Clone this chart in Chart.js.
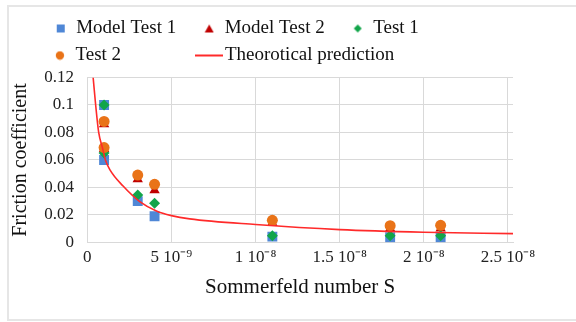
<!DOCTYPE html>
<html><head><meta charset="utf-8">
<script src="https://cdn.jsdelivr.net/npm/chart.js@4.4.0/dist/chart.umd.min.js"></script>
<style>
html,body{margin:0;padding:0;background:#fff;}
#wrap{position:relative;width:576px;height:322px;overflow:hidden;}
#frame{position:absolute;left:7px;top:5px;width:620px;height:316px;border:2px solid #e6e6e6;box-sizing:border-box;}
canvas{position:absolute;left:0;top:0;}
</style></head><body>
<div id="wrap"><div id="frame"></div><canvas id="c" width="576" height="322"></canvas></div>
<script>
const seriesNames = ['Model Test 1', 'Model Test 2', 'Test 1', 'Test 2', 'Theorotical prediction'];
const sMeasured = [1.0e-9, 1.0e-9, 3.0e-9, 4.0e-9, 1.1e-8, 1.8e-8, 2.1e-8];
const modelTest1 = [0.100, 0.060, 0.030, 0.019, 0.0042, 0.0038, 0.0038];
const modelTest2 = [0.086, 0.068, 0.046, 0.038, 0.0142, 0.0102, 0.0102];
const test1 = [0.100, 0.065, 0.0345, 0.0285, 0.0048, 0.0048, 0.0048];
const test2 = [0.088, 0.069, 0.049, 0.0423, 0.0161, 0.0122, 0.0124];
const sTheory = [0.35e-9, 0.50e-9, 0.68e-9, 0.90e-9, 1.08e-9, 1.34e-9, 2.13e-9, 3.12e-9, 4.11e-9, 5.0e-9, 6.09e-9, 1.0e-8, 1.5e-8, 2.0e-8, 2.53e-8];
const fTheory = [0.120, 0.100, 0.080, 0.069, 0.060, 0.053, 0.041, 0.0297, 0.0229, 0.0195, 0.0171, 0.0130, 0.0093, 0.0074, 0.0064];
const xTickLabels = ['0', '5 10\u207B\u2079', '1 10\u207B\u2078', '1.5 10\u207B\u2078', '2 10\u207B\u2078', '2.5 10\u207B\u2078'];
const yTickLabels = ['0', '0.02', '0.04', '0.06', '0.08', '0.1', '0.12'];

const FAMILY = '"Liberation Serif", "Times New Roman", serif';
const COLORS = ['#4f87d6', '#c00000', '#12a54a', '#e97318', '#ff2a2a'];

const pts = (xs, ys) => xs.map((x, i) => ({x: x, y: ys[i]}));

function makeMarker(kind, color) {
  const c = document.createElement('canvas');
  const g = c.getContext('2d');
  if (kind === 'line') { c.width = 28; c.height = 4; g.fillStyle = color; g.fillRect(0, 1, 28, 2); return c; }
  c.width = 10; c.height = 10; g.fillStyle = color;
  g.beginPath();
  if (kind === 'rect') { g.rect(1, 1, 8, 8); }
  else if (kind === 'triangle') { g.moveTo(5, 1); g.lineTo(9.5, 9); g.lineTo(0.5, 9); g.closePath(); }
  else if (kind === 'diamond') { g.moveTo(5, 1); g.lineTo(9, 5); g.lineTo(5, 9); g.lineTo(1, 5); g.closePath(); }
  else { g.arc(5, 5, 4.2, 0, Math.PI * 2); }
  g.fill();
  return c;
}
const legendMarkers = [
  makeMarker('rect', COLORS[0]), makeMarker('triangle', COLORS[1]),
  makeMarker('diamond', COLORS[2]), makeMarker('circle', COLORS[3]), makeMarker('line', COLORS[4])
];

const LEG_FONT = 19, LEG_BOX = 12, LEG_PAD = 8, COL_TEXT = 119.5;

function generateLabels(chart) {
  const items = Chart.defaults.plugins.legend.labels.generateLabels(chart)
    .sort((a, b) => a.datasetIndex - b.datasetIndex);
  const ctx = chart.ctx;
  ctx.save();
  ctx.font = LEG_FONT + 'px ' + FAMILY;
  items.forEach(it => {
    const span = it.datasetIndex === 4 ? 2 : 1;
    const target = COL_TEXT * span + (span - 1) * (LEG_BOX + LEG_FONT / 2 + LEG_PAD);
    let t = it.text;
    while (ctx.measureText(t + ' ').width <= target) t += ' ';
    let guard = 0;
    while (ctx.measureText(t).width < target - 0.6 && guard++ < 40) t += '\u200A';
    it.text = t;
    it.pointStyle = legendMarkers[it.datasetIndex];
    it.lineWidth = 0;
  });
  ctx.restore();
  return items;
}

// a little extra room between the legend and the plot
const legendGap = {
  id: 'legendGap',
  afterInit(chart) {
    const lg = chart.legend;
    if (!lg) return;
    const fit = lg.fit.bind(lg);
    lg.fit = function () { fit(); this.height += 2.5; };
  }
};

const pointStyles = ['rect', 'triangle', 'rectRot', 'circle'];
const pointRadii = [7, 6, 5.5, 5.5];
const measuredSeries = [modelTest1, modelTest2, test1, test2];
const datasets = measuredSeries.map((vals, i) => ({
  type: 'scatter',
  label: seriesNames[i],
  data: pts(sMeasured, vals),
  pointStyle: pointStyles[i],
  pointRadius: pointRadii[i],
  pointHoverRadius: pointRadii[i],
  backgroundColor: COLORS[i],
  borderColor: COLORS[i],
  pointBorderWidth: 0,
  order: 4 - i
}));
datasets.push({
  type: 'line',
  label: seriesNames[4],
  data: pts(sTheory, fTheory),
  showLine: true,
  borderColor: COLORS[4],
  backgroundColor: COLORS[4],
  borderWidth: 1.6,
  pointRadius: 0,
  fill: false,
  cubicInterpolationMode: 'monotone',
  order: 0
});

new Chart(document.getElementById('c'), {
  type: 'scatter',
  data: {datasets: datasets},
  plugins: [legendGap],
  options: {
    responsive: false,
    animation: false,
    devicePixelRatio: 1,
    layout: {padding: {left: 5, right: 33, top: 11, bottom: 20}},
    plugins: {
      legend: {
        position: 'top',
        align: 'center',
        labels: {
          usePointStyle: true,
          boxWidth: LEG_BOX,
          padding: LEG_PAD,
          color: '#111',
          font: {family: FAMILY, size: LEG_FONT},
          generateLabels: generateLabels
        }
      },
      tooltip: {enabled: false}
    },
    scales: {
      x: {
        type: 'linear',
        min: 0,
        max: 2.53e-8,
        grid: {color: '#d9d9d9', drawTicks: false},
        border: {color: '#d9d9d9'},
        afterFit: (s) => { s.paddingRight = 63; },
        ticks: {
          stepSize: 5e-9,
          includeBounds: false,
          padding: 5,
          maxRotation: 0,
          autoSkip: false,
          color: '#222',
          font: {family: FAMILY, size: 17},
          callback: (v, i) => xTickLabels[i]
        },
        title: {display: true, text: 'Sommerfeld number S', color: '#111',
                font: {family: FAMILY, size: 21}, padding: {top: 2, bottom: 2}}
      },
      y: {
        min: 0,
        max: 0.12,
        grid: {color: '#d9d9d9', drawTicks: false},
        border: {color: '#d9d9d9'},
        ticks: {
          stepSize: 0.02,
          padding: 13.25,
          color: '#222',
          font: {family: FAMILY, size: 17},
          callback: (v, i) => yTickLabels[i]
        },
        title: {display: true, text: 'Friction coefficient', color: '#111',
                font: {family: FAMILY, size: 20, lineHeight: 1}, padding: {top: 6, bottom: 0}}
      }
    }
  }
});
</script>
</body></html>
